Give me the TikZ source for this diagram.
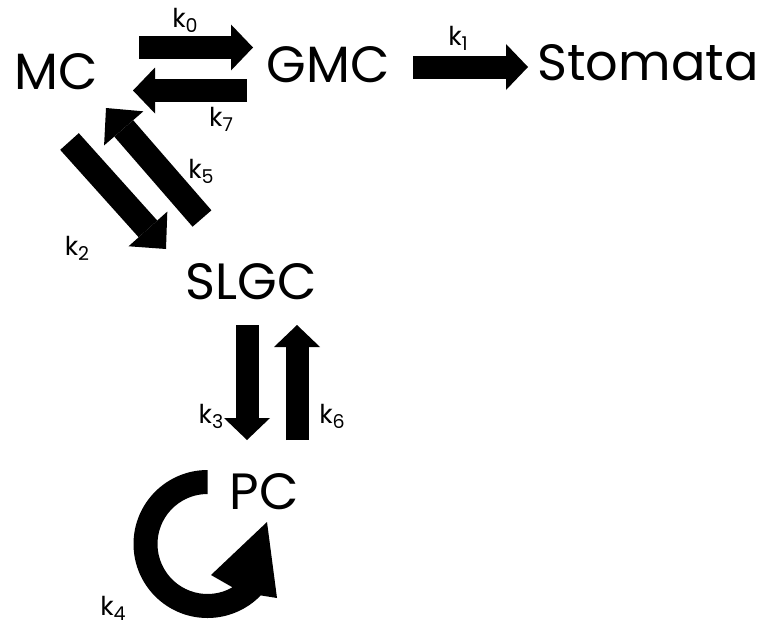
\documentclass[tikz,border=0pt]{standalone}
\usepackage{fontspec}
\setmainfont{Poppins}
\usetikzlibrary{arrows.meta}

% rate constant k with a lowered index
\newcommand\rconst[1]{k\raisebox{-5pt}{\fontsize{19}{19}\selectfont #1}}

\begin{document}
\begin{tikzpicture}[x=1pt, y=1pt,
  cell/.style={inner sep=0pt, font=\fontsize{51}{51}\selectfont},
  rate/.style={inner sep=0pt, font=\fontsize{26}{26}\selectfont},
  fat/.style={line width=23pt, -{Triangle[width=46pt, length=22pt, line width=0pt]}},
  fatdiag/.style={line width=25pt, -{Triangle[width=52pt, length=27pt, line width=0pt]}}]
  \useasboundingbox (0,0) rectangle (759,-626);

  % cell states
  \node[cell] (mc)      at (56,-72)    {MC};
  \node[cell] (gmc)     at (328,-64.5) {GMC};
  \node[cell] (stomata) at (648,-63)   {Stomata};
  \node[cell] (slgc)    at (251,-282)  {SLGC};
  \node[cell] (pc)      at (264,-492)  {PC};

  % MC <-> GMC -> Stomata
  \draw[fat] ([shift={(83,24.5)}]mc.center) -- ([shift={(-75,17)}]gmc.center);
  \draw[fat] ([shift={(-81,-26)}]gmc.center) -- ([shift={(77,-18.5)}]mc.center);
  \draw[fat] ([shift={(85,-2.5)}]gmc.center) -- ([shift={(-120,-4)}]stomata.center);

  % MC <-> SLGC
  \draw[fatdiag] ([shift={(13.5,-69.5)}]mc.center) -- ([shift={(-85,33)}]slgc.center);
  \draw[fatdiag] ([shift={(-49,63.5)}]slgc.center) -- ([shift={(50,-36)}]mc.center);

  % SLGC <-> PC
  \draw[fat] ([shift={(-4,-43)}]slgc.center) -- ([shift={(-17,52)}]pc.center);
  \draw[fat] ([shift={(33,52)}]pc.center) -- ([shift={(46,-43)}]slgc.center);

  % PC -> PC (self renewal)
  \coordinate (pcloop) at ([shift={(-56.5,-52)}]pc.center);
  \fill[shift={(pcloop)}] (90:74) arc[start angle=90, end angle=316, radius=74]
    -- (69.5,-54) -- (59.5,22) -- (3.5,-31)
    -- (300:50) arc[start angle=300, end angle=90, radius=50] -- cycle;

  % rate labels
  \node[rate] (k0) at (185,-20)  {\rconst{0}};
  \node[rate] (k1) at (458,-38)  {\rconst{1}};
  \node[rate] (k2) at (77,-248)  {\rconst{2}};
  \node[rate] (k3) at (211,-416) {\rconst{3}};
  \node[rate] (k4) at (113,-608) {\rconst{4}};
  \node[rate] (k5) at (201,-171) {\rconst{5}};
  \node[rate] (k6) at (332,-416) {\rconst{6}};
  \node[rate] (k7) at (221,-119) {\rconst{7}};
\end{tikzpicture}
\end{document}
